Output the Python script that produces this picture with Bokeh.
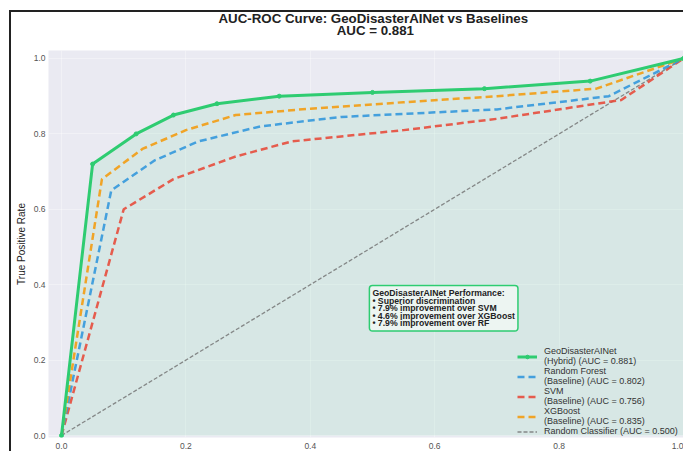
from bokeh.plotting import figure
from bokeh.models import Label, Legend, LegendItem, Range1d, FixedTicker, PrintfTickFormatter
from bokeh.embed import file_html
from bokeh.resources import INLINE

# ---- data ----
geo_fpr = [0, 0.05, 0.12, 0.18, 0.25, 0.35, 0.50, 0.68, 0.85, 1.0]
geo_tpr = [0, 0.72, 0.80, 0.85, 0.88, 0.90, 0.91, 0.92, 0.94, 1.0]
rf_fpr = [0, 0.08, 0.15, 0.22, 0.32, 0.45, 0.70, 0.88, 1.0]
rf_tpr = [0, 0.65, 0.73, 0.78, 0.82, 0.845, 0.865, 0.90, 1.0]
svm_fpr = [0, 0.10, 0.18, 0.28, 0.37, 0.55, 0.70, 0.90, 1.0]
svm_tpr = [0, 0.60, 0.68, 0.74, 0.78, 0.81, 0.84, 0.89, 1.0]
xgb_fpr = [0, 0.065, 0.13, 0.20, 0.28, 0.40, 0.55, 0.70, 0.86, 1.0]
xgb_tpr = [0, 0.68, 0.76, 0.81, 0.85, 0.867, 0.884, 0.90, 0.92, 1.0]
rand_fpr = [0, 1]
rand_tpr = [0, 1]
ticks = [0.0, 0.2, 0.4, 0.6, 0.8, 1.0]

labels = [
    "GeoDisasterAINet\n(Hybrid) (AUC = 0.881)",
    "Random Forest\n(Baseline) (AUC = 0.802)",
    "SVM\n(Baseline) (AUC = 0.756)",
    "XGBoost\n(Baseline) (AUC = 0.835)",
    "Random Classifier (AUC = 0.500)",
]
title_line1 = "AUC-ROC Curve: GeoDisasterAINet vs Baselines"
title_line2 = "AUC = 0.881"
note_text = ("GeoDisasterAINet Performance:\n"
             "\u2022 Superior discrimination\n"
             "\u2022 7.9% improvement over SVM\n"
             "\u2022 4.6% improvement over XGBoost\n"
             "\u2022 7.9% improvement over RF")

GREEN, BLUE, RED, ORANGE, GRAY = "#2ecc71", "#3498db", "#e74c3c", "#f39c12", "#6f6f6f"
FONT = "Liberation Sans"

p = figure(width=674, height=451,
           x_range=Range1d(-0.0209, 1.0), y_range=Range1d(-0.0053, 1.0212),
           output_backend="svg", toolbar_location=None,
           min_border_left=39, min_border_right=0, min_border_top=50, min_border_bottom=0)
# thin dark frame lines at the top-left (as in the screenshot), drawn behind a transparent border fill
p.styles = {
    "margin-left": "9px",
    "background": ("linear-gradient(#222,#222) 0 10px / 100% 2px no-repeat, "
                   "linear-gradient(#222,#222) 0 10px / 2px 100% no-repeat, #ffffff"),
}

p.background_fill_color = "#eaeaf2"
p.border_fill_color = "white"
p.border_fill_alpha = 0
p.outline_line_color = None

# two-line title; the second line is centred under the first with no-break spaces
p.title.text = title_line1 + "\n" + "\u00a0" * 32 + title_line2
p.title.align = "left"
p.title.vertical_align = "top"
p.title.offset = 170
p.title.standoff = 20
p.title.text_font = FONT
p.title.text_font_size = "13.3px"
p.title.text_font_style = "bold"
p.title.text_color = "#222222"
p.title.text_line_height = 0.84

for ax in (p.xaxis, p.yaxis):
    ax.ticker = FixedTicker(ticks=ticks)
    ax.formatter = PrintfTickFormatter(format="%.1f")
    ax.axis_line_color = None
    ax.major_tick_line_color = None
    ax.minor_tick_line_color = None
    ax.major_tick_out = 0
    ax.major_tick_in = 0
    ax.minor_tick_out = 0
    ax.minor_tick_in = 0
    ax.major_label_text_font = FONT
    ax.major_label_text_font_size = "8.5px"
    ax.major_label_text_color = "#555555"
p.yaxis.major_label_standoff = 3
p.xaxis.major_label_standoff = 5
p.yaxis.axis_label = "True Positive Rate"
p.yaxis.axis_label_text_font = FONT
p.yaxis.axis_label_text_font_size = "10px"
p.yaxis.axis_label_text_font_style = "normal"
p.yaxis.axis_label_text_color = "#222222"
p.yaxis.axis_label_standoff = 4

p.grid.grid_line_color = "white"
p.grid.grid_line_alpha = 0.35
p.grid.grid_line_width = 1

# fill under the hybrid curve
p.varea(x=geo_fpr, y1=[0] * len(geo_fpr), y2=geo_tpr, fill_color=GREEN, fill_alpha=0.1)

r_rand = p.line(rand_fpr, rand_tpr, line_color=GRAY, line_width=1.3, line_dash="4 2", line_alpha=0.8)
r_svm = p.line(svm_fpr, svm_tpr, line_color=RED, line_width=2.5, line_dash="7 4", line_alpha=0.9)
r_rf = p.line(rf_fpr, rf_tpr, line_color=BLUE, line_width=2.5, line_dash="7 4", line_alpha=0.9)
r_xgb = p.line(xgb_fpr, xgb_tpr, line_color=ORANGE, line_width=2.5, line_dash="7 4", line_alpha=0.9)
r_geo = p.line(geo_fpr, geo_tpr, line_color=GREEN, line_width=3)
r_geo_m = p.scatter(geo_fpr, geo_tpr, size=4, color=GREEN)

legend = Legend(items=[
    LegendItem(label=labels[0], renderers=[r_geo, r_geo_m]),
    LegendItem(label=labels[1], renderers=[r_rf]),
    LegendItem(label=labels[2], renderers=[r_svm]),
    LegendItem(label=labels[3], renderers=[r_xgb]),
    LegendItem(label=labels[4], renderers=[r_rand]),
], location=(466, -2))
legend.label_text_font = FONT
legend.label_text_font_size = "9px"
legend.label_text_line_height = 0.95
legend.label_text_color = "#333333"
legend.label_standoff = 7
legend.label_height = 9
legend.glyph_width = 20
legend.glyph_height = 9
legend.spacing = 0
legend.padding = 3
legend.margin = 0
legend.background_fill_alpha = 0
legend.border_line_alpha = 0
p.add_layout(legend)

note = Label(x=0.495, y=0.398, text=note_text, text_font=FONT, text_font_size="8.7px",
             text_font_style="bold", text_color="#222222", text_baseline="top",
             text_align="left", text_line_height=0.74,
             background_fill_color="#eef6f2", background_fill_alpha=0.95,
             border_line_color=GREEN, border_line_width=1.5,
             padding=3, border_radius=3)
p.add_layout(note)

open("out.html", "w").write(file_html(p, INLINE))
